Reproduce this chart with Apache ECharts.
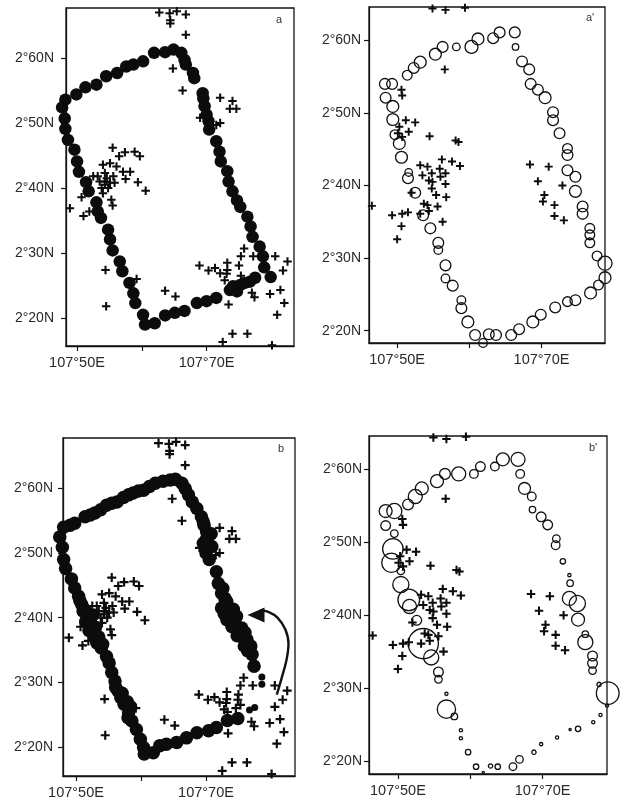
<!DOCTYPE html>
<html>
<head>
<meta charset="utf-8">
<style>
html,body{margin:0;padding:0;background:#fff}
#c{width:624px;height:802px;filter:blur(0.45px)}
</style>
<script src="https://cdn.jsdelivr.net/npm/echarts@6/dist/echarts.min.js"></script>
</head>
<body>
<div id="c"></div>
<script>
// Tick values (minutes east / north)
const lonLabelled = [50, 70];
const lonTicks = [50, 60, 70];
const latTicks = [20, 30, 40, 50, 60];

// Stations of panels a / b (crosses)
const stationsLeft = [[62.7,67.0],[64.3,66.9],[65.4,67.2],[66.8,66.7],[64.4,65.3],[64.4,65.8],[66.8,63.6],[64.8,58.4],[66.3,55.0],[72.1,53.9],[74.0,53.4],[73.6,52.2],[74.6,52.2],[69.0,50.8],[71.5,49.7],[72.1,50.0],[55.5,46.2],[56.5,44.9],[57.4,45.5],[58.9,45.6],[59.7,44.9],[54.0,43.6],[55.1,43.8],[56.1,43.3],[57.1,42.5],[58.2,42.5],[57.5,41.4],[59.4,40.9],[60.6,39.6],[52.5,41.8],[53.2,41.8],[54.3,42.3],[55.6,41.8],[53.5,41.0],[54.3,41.0],[55.1,40.8],[55.8,40.8],[53.8,40.0],[54.8,40.0],[54.0,39.2],[54.3,40.5],[54.6,41.5],[50.7,38.6],[55.3,38.2],[55.5,37.3],[48.9,36.9],[51.0,35.7],[51.9,36.4],[54.4,27.4],[54.5,21.8],[59.2,26.0],[63.6,24.2],[65.2,23.3],[68.9,28.1],[70.3,27.3],[71.3,27.7],[72.1,26.9],[73.2,28.5],[73.2,27.4],[73.1,26.8],[72.8,25.8],[75.0,28.1],[75.3,29.5],[75.8,30.7],[77.2,29.5],[75.3,26.5],[77.0,23.9],[77.4,23.2],[73.4,22.1],[80.6,29.5],[82.5,28.7],[81.8,27.3],[79.8,23.7],[81.4,24.3],[82.0,22.3],[80.9,20.5],[74.0,17.6],[76.3,17.6],[72.5,16.3],[80.1,15.8]];
const stationsLeftExtra = [[80.6,26.2],[74.9,27.3],[74.6,26.0],[73.3,25.4]];

// Stations of panels a' / b' (crosses)
const stationsRight = [[54.9,64.4],[56.7,64.2],[59.4,64.5],[56.6,56.0],[50.6,53.2],[50.7,52.4],[51.2,49.0],[52.5,48.7],[50.3,48.1],[50.1,47.2],[50.7,46.7],[51.6,47.4],[54.5,46.8],[58.1,46.2],[58.5,46.0],[56.2,43.6],[57.6,43.3],[58.7,42.7],[53.2,42.8],[54.2,42.6],[55.9,42.3],[56.7,41.7],[53.5,41.4],[54.8,41.7],[56.0,41.2],[54.4,40.7],[54.9,40.5],[56.7,40.2],[54.8,39.6],[55.4,38.7],[56.8,38.4],[52.0,39.0],[53.7,37.5],[54.2,37.3],[55.6,37.1],[54.4,36.5],[53.2,36.1],[49.3,35.9],[50.7,36.1],[51.5,36.3],[56.3,35.0],[50.6,34.4],[50.0,32.6],[46.5,37.2],[68.4,42.9],[71.0,42.6],[69.5,40.6],[72.9,40.0],[70.4,38.7],[70.2,37.8],[71.8,37.3],[71.8,35.8],[73.1,35.2]];

// Track of panel a
const trackA = [[64.9,61.3],[66.1,60.8],[66.6,59.7],[66.8,59.0],[67.9,57.7],[68.1,56.9],[69.4,54.6],[69.5,53.8],[69.7,52.6],[70.0,51.3],[70.3,50.3],[70.4,49.0],[71.5,47.2],[72.0,45.6],[72.2,44.1],[73.2,42.6],[73.4,41.0],[74.0,39.5],[74.7,38.1],[75.2,37.1],[76.3,35.6],[76.8,34.1],[77.1,32.5],[78.2,31.0],[78.7,29.5],[78.9,27.8],[79.9,26.3],[77.5,26.2],[76.7,25.6],[75.9,25.4],[75.2,25.1],[74.6,24.6],[74.1,24.9],[73.6,24.3],[74.7,24.1],[71.5,23.1],[70.0,22.6],[68.5,22.3],[66.6,21.1],[65.1,20.8],[63.6,20.4],[62.0,19.2],[60.5,19.0],[60.2,20.5],[59.0,22.3],[58.7,23.8],[58.1,25.4],[57.0,27.2],[56.6,28.7],[55.5,30.4],[55.1,32.1],[54.8,33.6],[53.7,35.4],[53.2,36.4],[53.0,37.8],[51.8,39.5],[51.4,40.9],[50.3,42.5],[50.0,44.1],[49.6,45.9],[48.6,47.4],[48.2,49.1],[48.1,50.7],[47.7,52.4],[48.2,53.6],[49.9,54.4],[51.3,55.5],[53.0,55.9],[54.5,57.2],[56.2,57.7],[57.6,58.7],[58.7,59.0],[60.2,59.5],[61.9,60.8],[63.6,60.9]];

// Track of panel b
const trackB = [[65.3,61.4],[64.5,61.3],[63.4,61.1],[62.2,60.8],[61.3,60.3],[60.4,59.7],[59.6,59.6],[58.8,59.3],[58.1,59.0],[57.3,58.6],[56.3,57.9],[55.5,57.7],[54.7,57.4],[53.8,56.7],[52.9,56.2],[52.2,55.9],[51.4,55.6],[49.8,54.6],[49.1,54.3],[48.1,54.0],[47.5,52.5],[47.9,50.9],[48.1,49.0],[48.4,47.6],[49.3,46.0],[49.8,44.6],[50.4,43.3],[50.9,42.0],[51.4,41.2],[51.7,40.2],[52.2,39.4],[52.4,38.4],[52.8,37.1],[53.2,36.1],[53.9,35.3],[54.7,34.0],[55.1,33.0],[55.5,31.5],[56.0,30.2],[56.5,28.6],[56.9,27.6],[57.4,26.6],[58.1,25.3],[58.6,24.0],[59.3,22.7],[59.9,21.2],[60.4,19.9],[60.5,18.9],[61.9,19.1],[62.9,20.2],[63.9,20.4],[65.5,20.7],[67.0,21.4],[68.6,22.2],[70.4,22.5],[71.6,23.0],[73.3,24.1],[74.9,24.4],[66.3,60.8],[66.8,60.0],[67.3,59.0],[67.9,57.9],[68.6,56.9],[69.3,55.6],[69.7,54.3],[70.1,53.3],[70.0,52.0],[70.2,50.7],[70.5,49.0],[71.6,47.1],[71.9,45.3],[72.4,43.8],[73.2,42.5],[73.4,41.2],[73.2,39.7],[73.9,39.9],[74.7,40.2],[74.5,38.7],[75.5,38.4],[75.5,37.1],[76.3,36.6],[76.9,35.6],[77.1,34.3],[77.4,32.5],
[50.6,42.6],[51.1,41.0],[51.5,39.4],[52.6,40.4],[52.0,38.0],[53.0,38.5],[53.5,37.0],[54.1,35.9],[56.1,29.2],[57.1,28.3],[57.9,27.0],[58.4,26.2],[58.0,24.5],[69.6,54.8],[70.8,53.0],[69.6,51.5],[70.9,51.0],[70.0,50.0],[72.6,44.5],[72.9,43.0],[72.4,41.5],[72.8,40.6],[74.2,41.3],[74.0,38.6],[74.8,37.2],[76.0,37.7],[75.9,35.6],[76.4,34.9]];
const trackBSmall = [[78.6,30.8],[78.6,29.7],[77.5,26.1],[76.7,25.7]];
// Arrow of panel b
const arrowPath = [[80.9,28.1],[81.6,30.5],[82.4,33.5],[82.7,36.0],[82.2,38.2],[81.0,40.0],[79.6,40.9],[78.4,41.1]];
const arrowHead = [[77.7,40.4]];

// Stations with catch magnitude: lon, lat, magnitude
const catchA = [[66.3,61.1,10],[64.2,61.1,10],[63.3,60.3,10],[66.4,59.1,6],[67.3,57.1,10],[68.3,56.0,10],[68.5,54.0,10],[69.5,53.2,10],[70.5,52.1,11],[71.6,50.1,10],[71.6,49.0,10],[72.5,47.2,10],[73.6,45.1,9],[73.6,44.2,10],[73.6,42.1,10],[74.7,41.2,10],[74.7,39.2,11],[75.7,37.1,10],[75.7,36.1,10],[76.7,34.1,9],[76.7,33.2,9],[76.7,32.1,9],[77.7,30.3,9],[78.8,29.3,13],[78.8,27.3,11],[77.9,26.3,9],[76.8,25.2,11],[74.7,24.2,10],[73.6,24.0,9],[71.9,23.2,10],[69.9,22.2,10],[68.8,21.2,11],[66.9,20.2,10],[65.8,19.4,10],[63.7,19.4,10],[62.7,19.5,10],[61.9,18.3,8],[60.8,19.4,10],[59.8,21.2,11],[58.9,23.1,10],[58.9,24.2,8],[57.7,26.2,10],[56.7,27.2,8],[56.7,29.0,10],[55.7,31.1,8],[55.7,32.1,10],[54.6,34.1,10],[53.6,35.9,10],[52.5,39.0,10],[51.5,41.0,10],[51.6,41.8,7],[50.6,43.9,11],[50.3,45.8,11],[49.7,47.0,9],[49.4,49.1,11],[49.4,50.9,11],[48.4,52.1,10],[49.3,54.0,10],[48.3,54.0,10],[51.4,55.2,9],[52.3,56.2,10],[53.2,57.0,11],[55.3,58.1,11],[56.3,59.1,10],[58.2,59.1,7],[60.3,59.1,12],[61.2,60.2,11]];
const catchB = [[66.6,61.4,13],[64.5,61.4,12],[63.4,60.4,8],[61.4,60.4,9],[60.5,59.4,8],[58.4,59.4,13],[56.5,59.4,10],[55.4,58.4,12],[53.3,57.4,12],[52.4,56.3,13],[51.4,55.2,10],[49.5,54.3,14],[48.3,54.3,12],[48.3,52.3,9],[49.5,51.2,7],[49.3,49.1,19],[49.1,47.2,18],[50.4,46.1,7],[50.4,44.2,15],[51.5,42.1,20],[51.6,41.2,13],[52.6,39.3,9],[53.5,36.1,28],[54.6,34.2,14],[55.6,32.2,9],[55.6,31.2,7],[56.7,29.2,3],[56.7,27.1,17],[57.8,26.1,6],[58.7,24.2,3],[58.7,23.1,3],[59.7,21.2,5],[60.8,19.2,5],[61.8,18.4,2],[62.8,19.3,4],[63.8,19.2,5],[65.9,19.2,7],[66.8,20.2,7],[68.8,21.2,4],[69.8,22.3,3],[72.0,23.2,3],[73.8,24.3,2],[74.9,24.4,5],[77.0,25.3,3],[78.0,26.3,3],[78.9,27.6,3],[79.0,29.3,21],[77.8,30.5,4],[76.9,32.4,7],[76.9,33.4,9],[76.9,34.4,9],[75.9,36.3,14],[75.9,37.4,6],[74.9,39.4,12],[74.8,41.6,15],[73.7,42.3,13],[73.8,44.4,6],[73.7,45.5,3],[72.8,47.4,5],[71.8,49.6,8],[71.9,50.5,7],[70.7,52.4,9],[69.8,53.5,9],[68.6,54.5,6],[68.5,56.3,8],[67.5,57.4,11],[66.9,59.4,8]];

const panels = [
  {name:'a',  left:66,  top:8,   w:228, h:338, x:[48.3,83.5], y:[15.7,67.7], lm:12, tag:[276,14]},
  {name:"a'", left:369, top:7,   w:236, h:336, x:[46.1,78.8], y:[18.3,64.6], lm:8,  tag:[586,12]},
  {name:'b',  left:63,  top:438, w:232, h:338, x:[48,83.7],   y:[15.5,67.8], lm:10, tag:[278,443]},
  {name:"b'", left:369, top:436, w:238, h:338, x:[46,78.9],   y:[18.2,64.6], lm:7,  tag:[589,442]}
];
const INK = '#141414';
const FONT = 'Liberation Sans, Arial, sans-serif';
const PLUS = 'path://M3.8 0h2.4v3.8H10v2.4H6.2V10H3.8V6.2H0V3.8h3.8z';

const ax = i => ({xAxisIndex:i, yAxisIndex:i, clip:false, silent:true, animation:false});
const crosses = (i, d, s) => Object.assign(ax(i), {type:'scatter', data:d, symbol:PLUS, symbolSize:s, z:3, itemStyle:{color:'#0c0c0c', opacity:1}});
const dots = (i, d, s) => Object.assign(ax(i), {type:'scatter', data:d, symbol:'circle', symbolSize:s, z:2, itemStyle:{color:'#0c0c0c', opacity:1}});
const rings = (i, d) => Object.assign(ax(i), {type:'scatter', data:d, symbol:'circle', symbolSize:v => v[2]*1.08, z:2,
  itemStyle:{color:'rgba(255,255,255,0)', borderColor:'#111', borderWidth:1.3, opacity:1}});

const option = {
  backgroundColor:'#fff',
  animation:false,
  grid: panels.map(p => ({left:p.left, top:p.top, width:p.w, height:p.h, show:true, borderColor:INK, borderWidth:1.3, containLabel:false})),
  xAxis: panels.map((p,i) => ({type:'value', gridIndex:i, min:p.x[0], max:p.x[1], scale:true,
    axisLine:{show:true, onZero:false, lineStyle:{color:INK, width:1.3}}, splitLine:{show:false},
    axisTick:{show:true, length:5, customValues:lonTicks, lineStyle:{color:INK, width:1.2}},
    axisLabel:{customValues:lonLabelled, margin:9, fontFamily:FONT, fontSize:14.5, color:'#2a2a2a', formatter:v=>'107°'+v+'E'}})),
  yAxis: panels.map((p,i) => ({type:'value', gridIndex:i, min:p.y[0], max:p.y[1], scale:true,
    axisLine:{show:true, onZero:false, lineStyle:{color:INK, width:1.3}}, splitLine:{show:false},
    axisTick:{show:true, length:5, customValues:latTicks, lineStyle:{color:INK, width:1.2}},
    axisLabel:{customValues:latTicks, margin:p.lm, fontFamily:FONT, fontSize:14, color:'#2a2a2a', formatter:v=>'2°'+v+'N'}})),
  graphic: panels.map(p => ({type:'text', left:p.tag[0], top:p.tag[1], style:{text:p.name, fontFamily:FONT, fontSize:11, fill:'#333'}})),
  series: [
    dots(0, trackA, 12.5),
    crosses(0, stationsLeft, 8.5),
    rings(1, catchA),
    crosses(1, stationsRight, 8),
    dots(2, trackB, 13.5),
    dots(2, trackBSmall, 7),
    crosses(2, stationsLeft, 9),
    crosses(2, stationsLeftExtra, 9),
    Object.assign(ax(2), {type:'line', data:arrowPath, smooth:0.4, showSymbol:false, symbol:'none', lineStyle:{color:'#111', width:2.4}, z:3}),
    Object.assign(ax(2), {type:'scatter', data:arrowHead, symbol:'triangle', symbolRotate:90, symbolSize:[15,17], itemStyle:{color:'#111', opacity:1}, z:3}),
    rings(3, catchB),
    crosses(3, stationsRight, 8.5)
  ]
};
echarts.init(document.getElementById('c')).setOption(option);
</script>
</body>
</html>
